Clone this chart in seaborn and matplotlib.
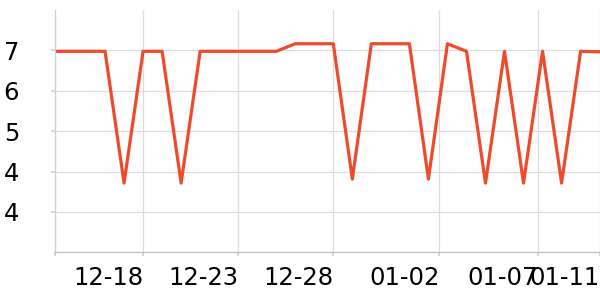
import matplotlib
matplotlib.use("Agg")
import matplotlib.pyplot as plt
import seaborn as sns
import pandas as pd
from matplotlib.ticker import FormatStrFormatter

dates = ["12-13", "12-14", "12-15", "12-16", "12-17", "12-18", "12-19", "12-20",
         "12-21", "12-22", "12-23", "12-24", "12-25", "12-26", "12-27", "12-28",
         "12-29", "12-30", "12-31", "01-01", "01-02", "01-03", "01-04", "01-05",
         "01-06", "01-07", "01-08", "01-09", "01-10", "01-11"]
values = [6.78, 6.78, 6.78, 6.78, 4.17, 6.78, 6.78, 4.17, 6.78, 6.78,
          6.78, 6.78, 6.78, 6.93, 6.93, 6.93, 4.25, 6.93, 6.93, 6.93,
          4.25, 6.93, 6.78, 4.17, 6.78, 4.17, 6.78, 4.17, 6.78, 6.77]
xtick_labels = ["", "12-18", "12-23", "12-28", "01-02", "01-07", "01-11"]
ytick_values = [6.8, 6.0, 5.2, 4.4, 3.6]

df = pd.DataFrame({"idx": range(len(dates)), "date": dates, "value": values})

sns.set_theme(style="white")
plt.rcParams['font.family'] = ['DejaVu Sans']

fig = plt.figure(figsize=(6, 3), dpi=100)
ax = fig.add_axes([0.092, 0.159, 0.908, 0.808])

sns.lineplot(data=df, x="idx", y="value", ax=ax, color="#ee4a2c", linewidth=2.3)

ax.set_xlim(0.38, 29.02)
ax.set_ylim(2.8, 7.6)

xtick_pos = [0.38, 5, 10, 15, 20.58, 25.78, 29]
ax.set_xticks(xtick_pos)
ax.set_xticklabels(xtick_labels, ha="right")
ax.set_yticks(ytick_values)
ax.yaxis.set_major_formatter(FormatStrFormatter('%.0f'))

ax.grid(True, color="#dcdcdc", linewidth=0.9)
ax.set_axisbelow(True)
for s in ["top", "right"]:
    ax.spines[s].set_visible(False)
ax.spines["left"].set_color("#d0d0d0")
ax.spines["bottom"].set_color("#bdbdbd")
ax.spines["left"].set_linewidth(0.9)
ax.spines["bottom"].set_linewidth(0.9)

ax.tick_params(axis="y", length=3, color="#d0d0d0", pad=23, labelsize=17.5, labelcolor="black")
ax.tick_params(axis="x", length=3, color="#d0d0d0", pad=7, labelsize=17.5, labelcolor="black")
ax.tick_params(left=True, bottom=True)

ax.set_xlabel("")
ax.set_ylabel("")

fig.savefig("out.png", dpi=100)
